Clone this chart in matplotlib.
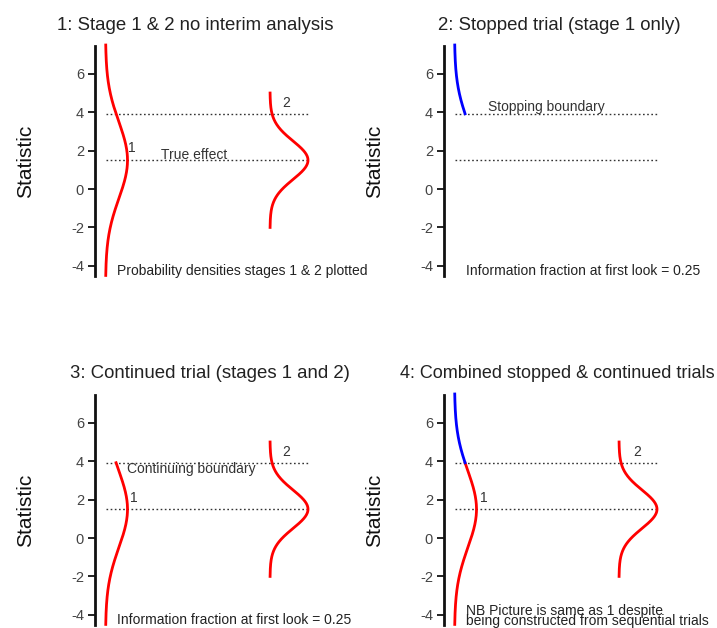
import numpy as np
import matplotlib
matplotlib.use('Agg')
import matplotlib.pyplot as plt

plt.rcParams['font.family'] = ['Liberation Sans', 'DejaVu Sans']
plt.rcParams['axes.unicode_minus'] = False

# ---- data ----
TRUE_EFFECT = 1.5
STAGE1_SD = 2.0
STAGE2_SD = 1.0
BOUNDARY = 3.92
STAGE1_RANGE = [-4.5, 7.5]
STAGE2_RANGE = [-2.0, 5.0]
YTICKS = [-4, -2, 0, 2, 4, 6]
TITLES = ["1: Stage 1 & 2 no interim analysis",
          "2: Stopped trial (stage 1 only)",
          "3: Continued trial (stages 1 and 2)",
          "4: Combined stopped & continued trials"]
NOTES = ["Probability densities stages 1 & 2 plotted",
         "Information fraction at first look = 0.25",
         "Information fraction at first look = 0.25",
         "NB Picture is same as 1 despite\nbeing constructed from sequential trials"]

# ---- layout (x in pixel-like units from the axis spine) ----
BASE1, PEAK1 = 10.5, 22
BASE2, PEAK2 = 175, 38
LINE_X = [11, 215]
RED, BLUE = '#ff0000', '#0000ff'
TXT = 10


def density(y, mu, sd, base, peak):
    return base + peak * np.exp(-0.5 * ((y - mu) / sd) ** 2)


def stage_curve(lo, hi, sd, base, peak):
    y = np.linspace(lo, hi, 300)
    return density(y, TRUE_EFFECT, sd, base, peak), y


fig = plt.figure(figsize=(7.17, 6.28), dpi=100)
W, H = 220 / 717, 230.4 / 628
positions = [(95 / 717, 0.5599), (444 / 717, 0.5599),
             (95 / 717, 0.0042), (444 / 717, 0.0042)]
title_x = [195, 559, 210, 557]
title_y = [25, 25, 373, 373]
title_fs = [13.4, 13.4, 13.4, 13.0]
axes = []
for i, (l, b) in enumerate(positions):
    ax = fig.add_axes([l, b, W, H])
    ax.set_xlim(0, 220)
    ax.set_ylim(-4.55, 7.45)
    for s in ['top', 'right', 'bottom']:
        ax.spines[s].set_visible(False)
    ax.spines['left'].set_linewidth(2.0)
    ax.spines['left'].set_color('#111111')
    ax.set_xticks([])
    ax.set_yticks(YTICKS)
    ax.tick_params(axis='y', length=5, width=1.3, pad=3, labelsize=10.5,
                   labelcolor='#444444', color='#111111')
    ax.set_ylabel('Statistic', fontsize=15, color='#111111')
    ax.yaxis.set_label_coords(-60 / 220, 0.5)
    fig.text(title_x[i] / 717, 1 - title_y[i] / 628, TITLES[i],
             ha='center', va='center', fontsize=title_fs[i], color='#222222')
    axes.append(ax)

dot = dict(color='#333333', linestyle=(0, (1.2, 1.8)), linewidth=1.0)

# panel 1
ax = axes[0]
ax.plot(LINE_X, [BOUNDARY] * 2, **dot)
ax.plot(LINE_X, [TRUE_EFFECT] * 2, **dot)
x, y = stage_curve(*STAGE1_RANGE, STAGE1_SD, BASE1, PEAK1)
ax.plot(x, y, color=RED, lw=2, clip_on=False)
x, y = stage_curve(*STAGE2_RANGE, STAGE2_SD, BASE2, PEAK2)
ax.plot(x, y, color=RED, lw=2)
ax.text(33, 1.75, '1', fontsize=TXT, color='#333333', va='bottom')
ax.text(187, 4.5, '2', fontsize=TXT, color='#333333', va='center')
ax.text(66, 1.4, 'True effect', fontsize=TXT, color='#333333', va='bottom')
ax.text(22, -4.27, NOTES[0], fontsize=TXT, color='#222222', va='center')

# panel 2
ax = axes[1]
ax.plot(LINE_X, [BOUNDARY] * 2, **dot)
ax.plot(LINE_X, [TRUE_EFFECT] * 2, **dot)
x, y = stage_curve(BOUNDARY, STAGE1_RANGE[1], STAGE1_SD, BASE1, PEAK1)
ax.plot(x, y, color=BLUE, lw=2, clip_on=False)
ax.text(44, 3.9, 'Stopping boundary', fontsize=TXT, color='#333333', va='bottom')
ax.text(22, -4.27, NOTES[1], fontsize=TXT, color='#222222', va='center')

# panel 3
ax = axes[2]
ax.plot(LINE_X, [BOUNDARY] * 2, **dot)
ax.plot(LINE_X, [TRUE_EFFECT] * 2, **dot)
x, y = stage_curve(STAGE1_RANGE[0], BOUNDARY, STAGE1_SD, BASE1, PEAK1)
ax.plot(x, y, color=RED, lw=2, clip_on=False)
x, y = stage_curve(*STAGE2_RANGE, STAGE2_SD, BASE2, PEAK2)
ax.plot(x, y, color=RED, lw=2)
ax.text(35, 2.08, '1', fontsize=TXT, color='#333333', va='center')
ax.text(187, 4.5, '2', fontsize=TXT, color='#333333', va='center')
ax.text(32, 3.6, 'Continuing boundary', fontsize=TXT, color='#333333', va='center')
ax.text(22, -4.27, NOTES[2], fontsize=TXT, color='#222222', va='center')

# panel 4
ax = axes[3]
ax.plot(LINE_X, [BOUNDARY] * 2, **dot)
ax.plot(LINE_X, [TRUE_EFFECT] * 2, **dot)
x, y = stage_curve(STAGE1_RANGE[0], BOUNDARY, STAGE1_SD, BASE1, PEAK1)
ax.plot(x, y, color=RED, lw=2, clip_on=False)
x, y = stage_curve(BOUNDARY, STAGE1_RANGE[1], STAGE1_SD, BASE1, PEAK1)
ax.plot(x, y, color=BLUE, lw=2, clip_on=False)
x, y = stage_curve(*STAGE2_RANGE, STAGE2_SD, BASE2, PEAK2)
ax.plot(x, y, color=RED, lw=2)
ax.text(36, 2.08, '1', fontsize=TXT, color='#333333', va='center')
ax.text(189, 4.5, '2', fontsize=TXT, color='#333333', va='center')
ax.text(22, -4.05, NOTES[3], fontsize=TXT, color='#222222', va='center',
        linespacing=0.68)

fig.savefig('out.png', dpi=100)
